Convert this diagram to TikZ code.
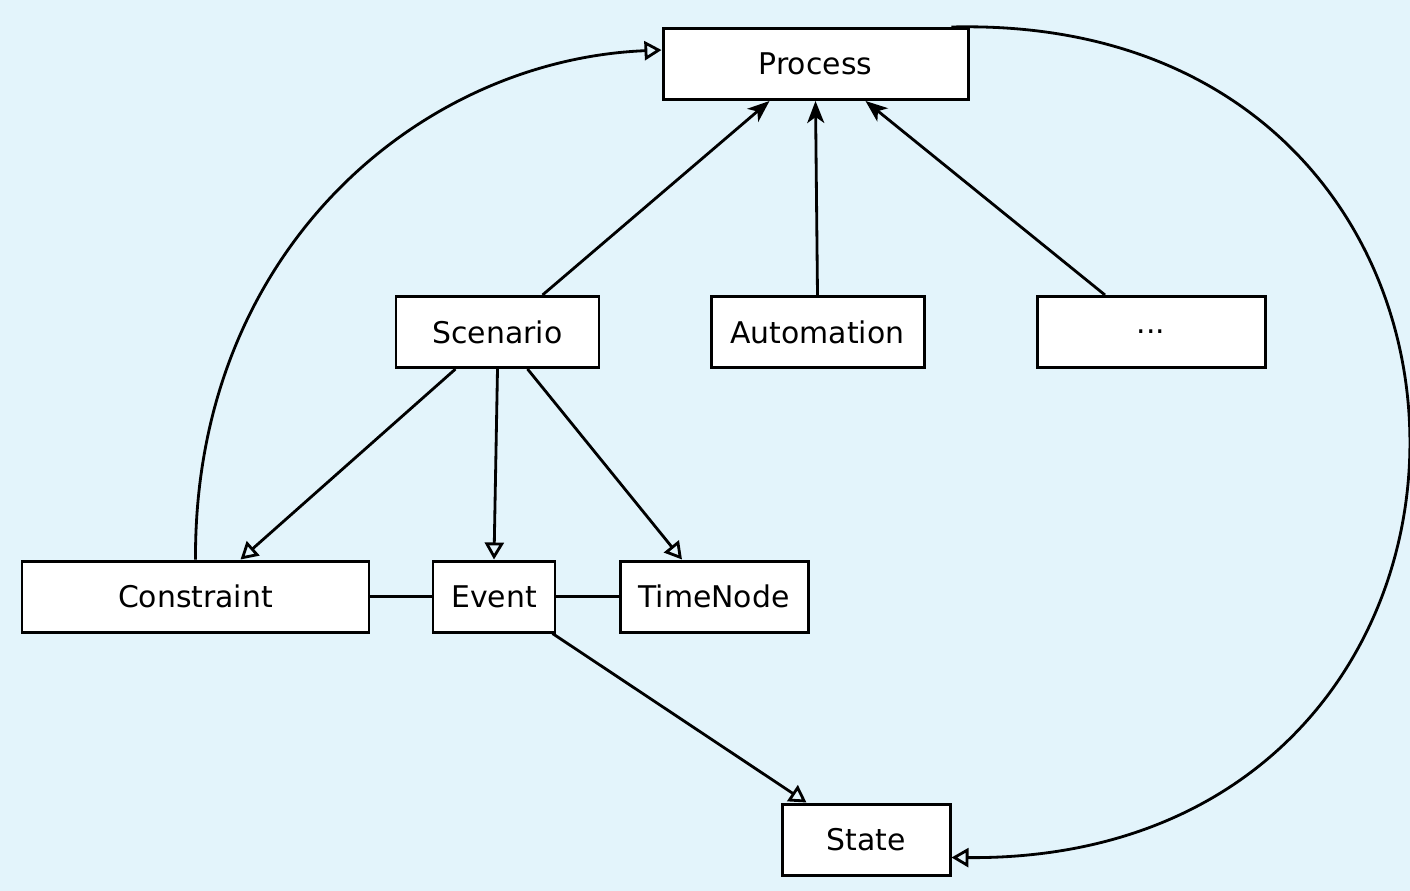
\documentclass[tikz,border=0pt]{standalone}
\usepackage{fontspec}
\setmainfont{DejaVu Sans}
\usetikzlibrary{arrows.meta}
\definecolor{bgblue}{HTML}{E3F4FB}

\begin{document}
\begin{tikzpicture}[x=0.1mm,y=-0.1mm]
        \tikzstyle{box}=[draw, fill=white, line width=0.85pt, minimum height=7.1mm, inner sep=0pt, font=\fontsize{8.5}{10}\selectfont]
        \tikzstyle{inherit}=[line width=0.8pt, -{Triangle[open,length=1.7mm,width=1.9mm]}]
        \tikzstyle{uses}=[line width=0.8pt, -{Stealth[length=2.2mm,width=1.7mm,inset=0.6mm]}]
        \fill[bgblue] (0,0) rectangle (1410,891);
        \useasboundingbox (0,0) rectangle (1410,891);
        % boxes
        \node[box, minimum width=30.5mm] (process) at (815.5,64) {Process};
        \node[box, minimum width=20.3mm] (scenario) at (497.5,332) {Scenario};
        \node[box, minimum width=21.3mm] (automation) at (817.5,332) {Automation};
        \node[box, minimum width=22.8mm] (more) at (1151,332) {...};
        \node[box, minimum width=34.7mm] (constraint) at (195.5,596.5) {Constraint};
        \node[box, minimum width=12.2mm] (event) at (494,596.5) {Event};
        \node[box, minimum width=18.8mm] (timenode) at (714,596.5) {TimeNode};
        \node[box, minimum width=16.8mm] (state) at (866,839.5) {State};
        % process children
        \draw[uses] ([xshift=-5.8mm]scenario.north east) -- ([xshift=-4.6mm]process.south);
        \draw[uses] (automation.north) -- (process.south);
        \draw[uses] ([xshift=-4.6mm]more.north) -- ([xshift=5mm]process.south);
        % scenario contents
        \draw[inherit] ([xshift=-4.2mm]scenario.south) -- ([xshift=4.5mm]constraint.north);
        \draw[inherit] (scenario.south) -- (event.north);
        \draw[inherit] ([xshift=3mm]scenario.south) -- ([xshift=-3.2mm]timenode.north);
        \draw[line width=0.8pt] (constraint) -- (event) -- (timenode);
        \draw[inherit] ([xshift=-0.4mm]event.south east) -- ([xshift=2.6mm]state.north west);
        % loops
        \draw[inherit] (constraint.north) .. controls (194,250) and (420,60) .. ([yshift=1.4mm]process.west);
        \draw[inherit] ([xshift=-1.8mm]process.north east) .. controls (1560,12) and (1560,862) .. ([yshift=-1.8mm]state.east);
\end{tikzpicture}
\end{document}
